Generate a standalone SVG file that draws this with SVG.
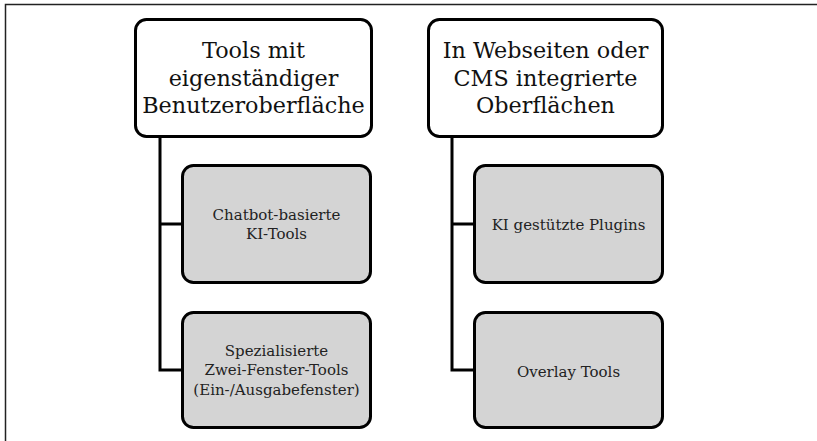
<svg xmlns="http://www.w3.org/2000/svg" width="817" height="441" viewBox="0 0 817 441">
<style>
.top{fill:#fff;stroke:#000;stroke-width:3}
.sub{fill:#d4d4d4;stroke:#000;stroke-width:3}
.t1{font-family:"DejaVu Serif","Liberation Serif",serif;font-size:22.3px;fill:#111;text-anchor:middle}
.t2{font-family:"DejaVu Serif","Liberation Serif",serif;font-size:15px;fill:#222;text-anchor:middle}
.con{fill:none;stroke:#000;stroke-width:3}
</style>
<rect width="817" height="441" fill="#fff"/>
<path d="M5.5,441 V4.5 H817" fill="none" stroke="#222" stroke-width="1.5"/>
<g id="connectors">
<path class="con" d="M160,137 V370 H182 M160,224 H182"/>
<path class="con" d="M452,137 V370 H474 M452,224 H474"/>
</g>
<g id="n1">
<rect class="top" x="135.5" y="19.5" width="236" height="117" rx="11"/>
<text class="t1" x="253.5" y="58">Tools mit</text>
<text class="t1" x="253.5" y="86">eigenständiger</text>
<text class="t1" x="253.5" y="113">Benutzeroberfläche</text>
</g>
<g id="n2">
<rect class="top" x="428.5" y="19.5" width="234" height="117" rx="11"/>
<text class="t1" x="545.5" y="58">In Webseiten oder</text>
<text class="t1" x="545.5" y="86">CMS integrierte</text>
<text class="t1" x="545.5" y="113">Oberflächen</text>
</g>
<g id="n3">
<rect class="sub" x="182.5" y="165.5" width="188" height="117" rx="11"/>
<text class="t2" x="276.5" y="220">Chatbot-basierte</text>
<text class="t2" x="276.5" y="239">KI-Tools</text>
</g>
<g id="n4">
<rect class="sub" x="182.5" y="312.5" width="188" height="115" rx="11"/>
<text class="t2" x="276.5" y="356">Spezialisierte</text>
<text class="t2" x="276.5" y="375">Zwei-Fenster-Tools</text>
<text class="t2" x="276.5" y="395">(Ein-/Ausgabefenster)</text>
</g>
<g id="n5">
<rect class="sub" x="474.5" y="165.5" width="188" height="117" rx="11"/>
<text class="t2" x="568.5" y="230">KI gestützte Plugins</text>
</g>
<g id="n6">
<rect class="sub" x="474.5" y="312.5" width="188" height="115" rx="11"/>
<text class="t2" x="568.5" y="377">Overlay Tools</text>
</g>
</svg>
